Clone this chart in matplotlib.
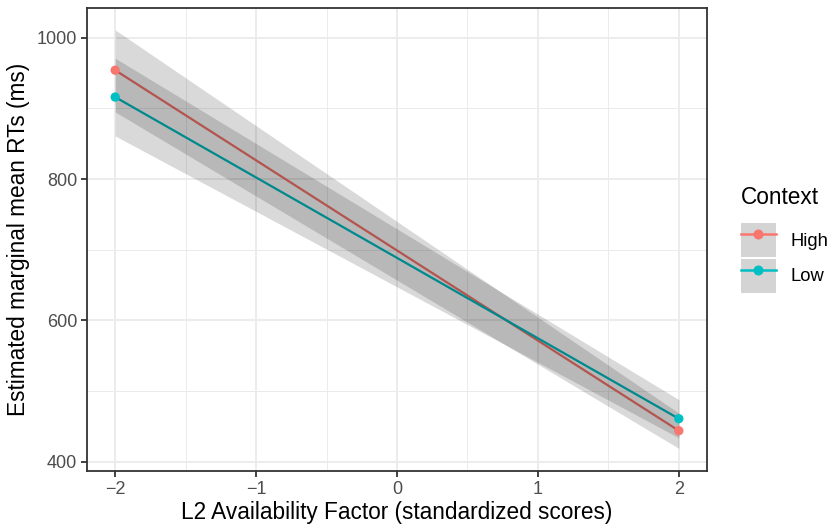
import matplotlib
matplotlib.use("Agg")
from matplotlib import pyplot as plt
from matplotlib.lines import Line2D
from matplotlib.patches import Patch
from matplotlib.legend_handler import HandlerTuple

plt.rcParams['font.family'] = ['Liberation Sans', 'DejaVu Sans']

# data
x_vals = [-2, 2]
contexts = ["High", "Low"]
colors = ["#F8766D", "#00BFC4"]
emm_high = [954, 444]
lo_high = [895, 419]
hi_high = [1011, 469]
emm_low = [916, 461]
lo_low = [861, 434]
hi_low = [971, 488]

x_ticks = [-2, -1, 0, 1, 2]
x_tick_labels = ["\u22122", "\u22121", "0", "1", "2"]
y_ticks = [400, 600, 800, 1000]

fig = plt.figure(figsize=(8.32, 5.26), dpi=100)
ax = fig.add_axes([87/832, 1-471/526, 620/832, 463/526])

series = [(emm_high, lo_high, hi_high), (emm_low, lo_low, hi_low)]
for (emm, lo, hi), col in zip(series, colors):
    ax.plot(x_vals, emm, color=col, lw=1.6, zorder=2)
    ax.fill_between(x_vals, lo, hi, color="black", alpha=0.15, lw=0, zorder=3)
    ax.scatter(x_vals, emm, color=col, s=45, zorder=4, edgecolors="none")

ax.set_xlim(-2.2, 2.2)
ax.set_ylim(387, 1042)
ax.set_xticks(x_ticks)
ax.set_xticklabels(x_tick_labels)
ax.set_yticks(y_ticks)
ax.set_xticks([-1.5, -0.5, 0.5, 1.5], minor=True)
ax.set_yticks([500, 700, 900], minor=True)
ax.grid(True, which="major", color="#EBEBEB", lw=1.3, zorder=0)
ax.grid(True, which="minor", color="#EBEBEB", lw=0.7, zorder=0)
ax.set_axisbelow(True)
ax.tick_params(which="major", length=4, width=1.3, color="#333333",
               labelsize=13, labelcolor="#4D4D4D", pad=3)
ax.tick_params(which="minor", length=0)
for s in ax.spines.values():
    s.set_color("#333333")
    s.set_linewidth(1.3)

ax.set_xlabel("L2 Availability Factor (standardized scores)", fontsize=16.3, labelpad=2)
ax.set_ylabel("Estimated marginal mean RTs (ms)", fontsize=16.3, labelpad=5)

# legend keys: grey ribbon box with the line and dot on top
handles = []
for col in colors:
    handles.append((Patch(facecolor="#D4D4D4", edgecolor="none"),
                    Line2D([0], [0], color=col, lw=1.8, marker="o", markersize=6.2)))
leg = fig.legend(handles, contexts, title="Context", loc="upper left",
                 bbox_to_anchor=(741/832, 1-186/526), frameon=False,
                 fontsize=13.2, title_fontsize=16.3, handlelength=1.9,
                 handleheight=2.48, labelspacing=0.1, handletextpad=0.8,
                 borderpad=0, borderaxespad=0,
                 handler_map={tuple: HandlerTuple(ndivide=1, pad=0)})
leg._legend_box.align = "left"
leg._legend_box.sep = 10

fig.savefig("out.png", dpi=100)
